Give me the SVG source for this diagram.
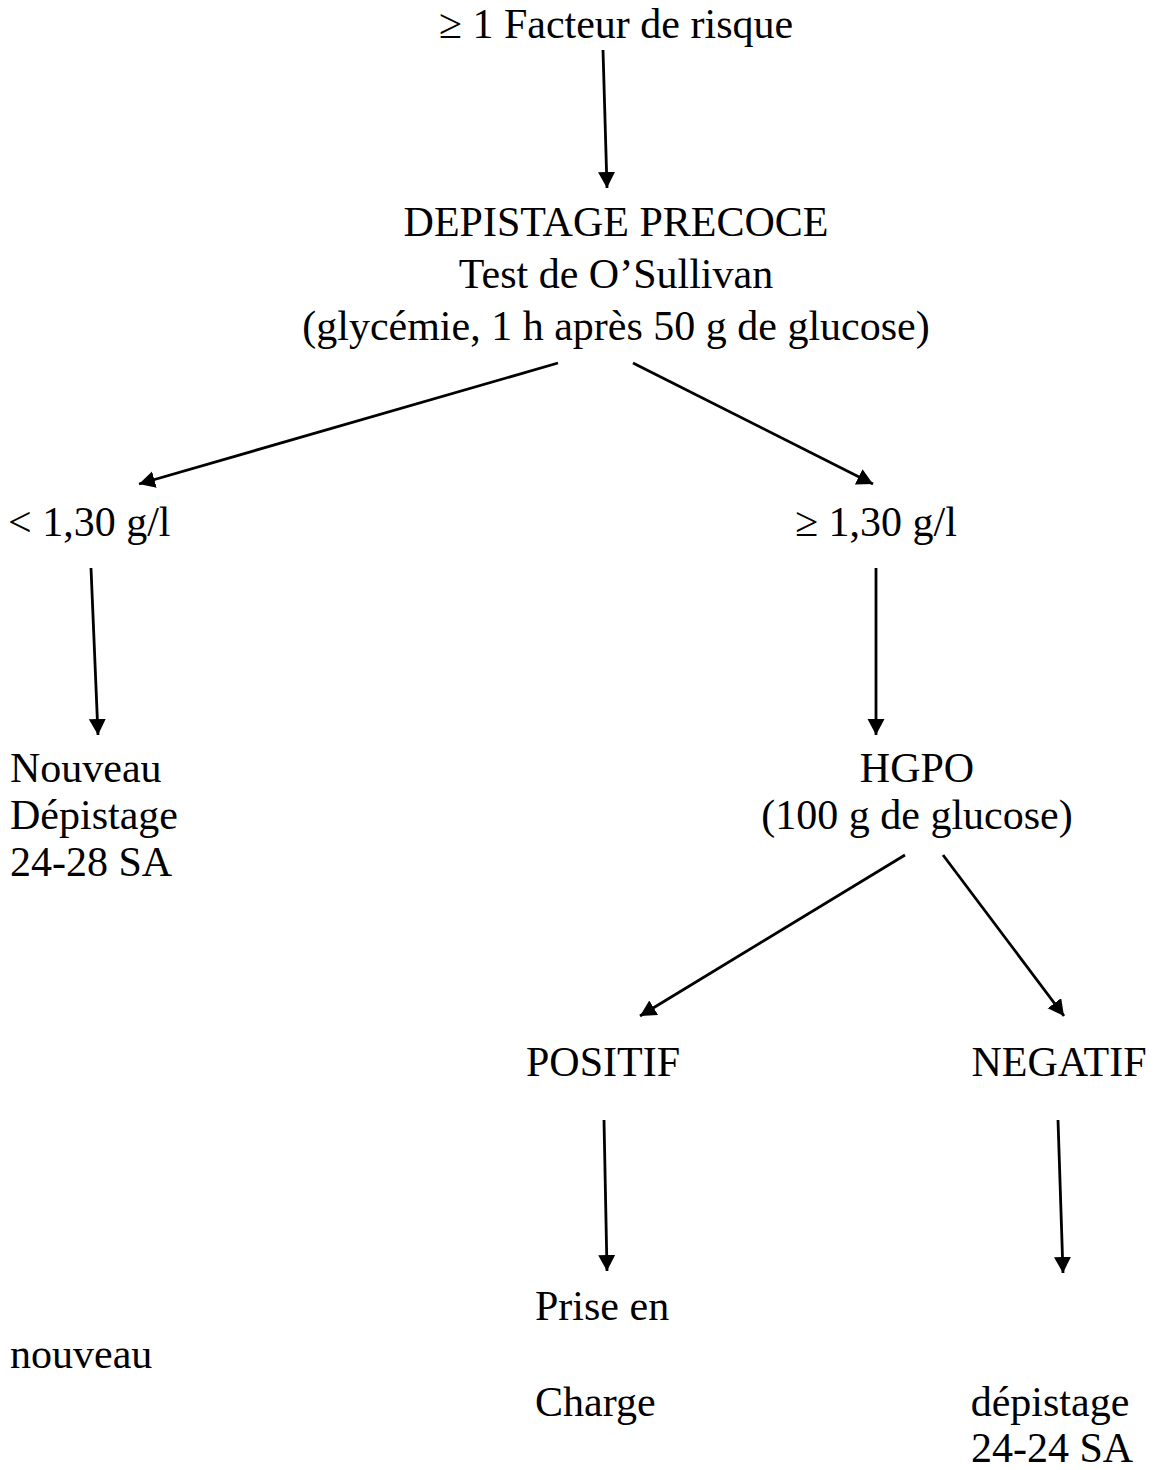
<svg xmlns="http://www.w3.org/2000/svg" width="1157" height="1470" viewBox="0 0 1157 1470">
<style>
text{font-family:"Liberation Serif","Times New Roman",serif;font-size:42px;fill:#000}
.c{text-anchor:middle}
.conn line{stroke:#000;stroke-width:2.8;fill:none;marker-end:url(#ah)}
</style>
<defs>
<marker id="ah" markerUnits="userSpaceOnUse" markerWidth="18" markerHeight="18" refX="16" refY="8.5" orient="auto">
<path d="M0,0 L16,8.5 L0,17 z" fill="#000"/>
</marker>
</defs>
<rect width="1157" height="1470" fill="#fff"/>
<g id="n-facteur"><text class="c" x="616" y="38">≥ 1 Facteur de risque</text></g>
<g id="n-depistage">
<text class="c" x="616" y="236">DEPISTAGE PRECOCE</text>
<text class="c" x="616" y="288">Test de O’Sullivan</text>
<text class="c" x="616" y="340">(glycémie, 1 h après 50 g de glucose)</text>
</g>
<g id="n-inf"><text x="8" y="536">&lt; 1,30 g/l</text></g>
<g id="n-sup"><text x="795" y="536">≥ 1,30 g/l</text></g>
<g id="n-nouveau">
<text x="10" y="782">Nouveau</text>
<text x="10" y="829">Dépistage</text>
<text x="10" y="876">24-28 SA</text>
</g>
<g id="n-hgpo">
<text class="c" x="917" y="782">HGPO</text>
<text class="c" x="917" y="829">(100 g de glucose)</text>
</g>
<g id="n-positif"><text class="c" x="603" y="1076">POSITIF</text></g>
<g id="n-negatif"><text class="c" x="1059" y="1076">NEGATIF</text></g>
<g id="n-prise">
<text x="535" y="1320">Prise en</text>
<text x="535" y="1416">Charge</text>
</g>
<g id="n-nouveau2"><text x="10" y="1368">nouveau</text></g>
<g id="n-depist2">
<text class="c" x="1050" y="1416">dépistage</text>
<text class="c" x="1052" y="1462">24-24 SA</text>
</g>
<g id="connectors" class="conn">
<line x1="603" y1="50" x2="607" y2="188"/>
<line x1="558" y1="363" x2="139" y2="484"/>
<line x1="633" y1="363" x2="873" y2="484"/>
<line x1="91" y1="568" x2="98" y2="735"/>
<line x1="876" y1="568" x2="876" y2="735"/>
<line x1="905" y1="855" x2="640" y2="1016"/>
<line x1="943" y1="855" x2="1064" y2="1016"/>
<line x1="604" y1="1120" x2="607" y2="1271"/>
<line x1="1058" y1="1120" x2="1063" y2="1273"/>
</g>
</svg>
